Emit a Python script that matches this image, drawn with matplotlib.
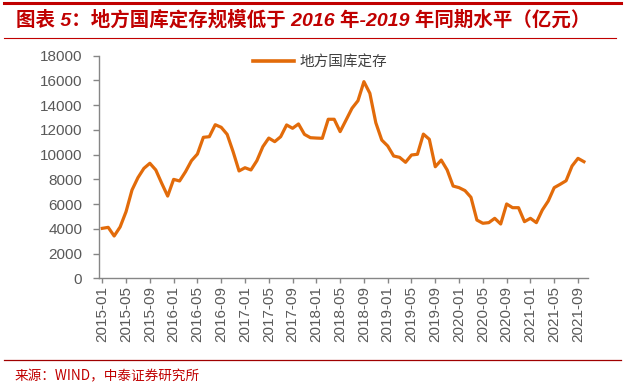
import matplotlib
matplotlib.use("Agg")
import matplotlib.pyplot as plt
from matplotlib.lines import Line2D

plt.rcParams['font.family'] = ['Liberation Sans', 'Noto Sans CJK SC', 'DejaVu Sans']

start_year, start_month = 2015, 1
values = [
    4040, 4120, 3420, 4150, 5390, 7140, 8140, 8890, 9300, 8760, 7680, 6650,   # 2015
    8000, 7870, 8620, 9510, 10050, 11400, 11450, 12420, 12210, 11640, 10240, 8680,  # 2016
    8940, 8760, 9510, 10640, 11340, 11050, 11450, 12400, 12130, 12480, 11640, 11370,  # 2017
    11340, 11320, 12860, 12860, 11860, 12800, 13750, 14360, 15900, 14960, 12580, 11180,  # 2018
    10700, 9890, 9780, 9380, 9970, 10030, 11660, 11240, 9020, 9560, 8760, 7460,  # 2019
    7330, 7090, 6550, 4710, 4450, 4500, 4850, 4390, 6010, 5710, 5710, 4580,  # 2020
    4850, 4500, 5520, 6250, 7330, 7600, 7890, 9080, 9700, 9430,  # 2021-01..2021-10
]
series_name = "地方国库定存"
title = "图表 5：地方国库定存规模低于 2016 年-2019 年同期水平（亿元）"
source = "来源：WIND，中泰证券研究所"
yticks = list(range(0, 18001, 2000))

n = len(values)
labels = []
for i in range(n):
    m = start_month - 1 + i
    labels.append(f"{start_year + m // 12}-{m % 12 + 1:02d}")
x = list(range(n))
tick_pos = x[::4]
tick_lab = labels[::4]

W, H = 625, 387
fig = plt.figure(figsize=(W / 100, H / 100), dpi=100)
ax = fig.add_axes([99.3 / W, 1 - 278.3 / H, (587.5 - 99.3) / W, (278.3 - 55.7) / H])

ax.plot(x, values, color='#E26B0A', lw=2.3, solid_joinstyle='round', label=series_name)
ax.set_xlim(-0.5, 81.6)
ax.set_ylim(0, 18000)
ax.set_yticks(yticks)
ax.set_yticklabels([str(v) for v in yticks])
ax.set_xticks(tick_pos)
ax.set_xticklabels(tick_lab, rotation=90)

gray = '#868686'
for s in ['top', 'right']:
    ax.spines[s].set_visible(False)
for s in ['left', 'bottom']:
    ax.spines[s].set_color(gray)
    ax.spines[s].set_linewidth(1.0)
ax.tick_params(axis='y', direction='out', length=4.3, width=1.0, color=gray,
               pad=8, labelsize=11, labelcolor='#595959')
ax.tick_params(axis='x', direction='out', length=3.6, width=1.0, color=gray,
               pad=2, labelsize=11, labelcolor='#595959')

leg = ax.legend(handles=[Line2D([], [], color='#E26B0A', lw=2.6)], labels=[series_name],
                loc='upper left', bbox_to_anchor=((240 - 99.3) / (587.5 - 99.3), 1.06),
                frameon=False, handlelength=2.8, handletextpad=0.4,
                prop={'family': ['Noto Sans CJK SC'], 'size': 10.5})
for t in leg.get_texts():
    t.set_color('#404040')

red = '#C00000'
# top rules and title
fig.add_artist(Line2D([4 / W, 621 / W], [1 - 3 / H, 1 - 3 / H], color=red, lw=2.2))
fig.add_artist(Line2D([4 / W, 616 / W], [1 - 38 / H, 1 - 38 / H], color=red, lw=0.8))
fig.text(16 / W, 1 - 20 / H, title, color=red, fontsize=14, fontweight='bold',
         fontstyle='italic', va='center', ha='left',
         family=['Liberation Sans', 'Noto Sans CJK SC'])
# bottom rule and source
fig.add_artist(Line2D([4 / W, 621 / W], [1 - 360 / H, 1 - 360 / H], color='#A00000', lw=0.9))
fig.text(15 / W, 1 - 376 / H, source, color=red, fontsize=9.8, va='center', ha='left',
         family=['Noto Sans CJK SC'])

fig.savefig('out.png', dpi=100)
